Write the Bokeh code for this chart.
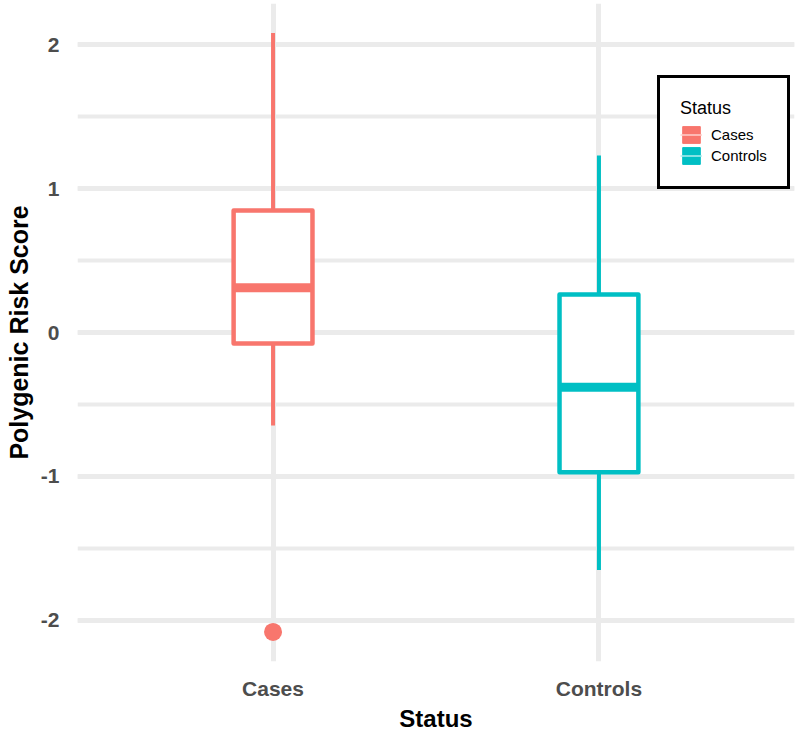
from bokeh.plotting import figure
from bokeh.models import (FactorRange, Range1d, SingleIntervalTicker, Legend, LegendItem,
                          ColumnDataSource)
from bokeh.embed import file_html
from bokeh.resources import INLINE

# ---- data ----
categories = ["Cases", "Controls"]
colors = ["#F8766D", "#00BFC4"]
lower_whisker = [-0.646, -1.65]
q1 = [-0.076, -0.97]
median = [0.31, -0.38]
q3 = [0.847, 0.264]
upper_whisker = [2.08, 1.23]
outlier_cat = ["Cases"]
outlier_val = [-2.08]
y_tick_labels = {-2: "-2", -1: "-1", 0: "0", 1: "1", 2: "2"}

FONT = "Liberation Sans"

src = ColumnDataSource(dict(cat=categories, color=colors, lw=lower_whisker, q1=q1,
                            med=median, q3=q3, uw=upper_whisker))

p = figure(width=801, height=734,
           x_range=FactorRange(factors=categories, range_padding=0.1),
           y_range=Range1d(-2.285, 2.285), output_backend="svg", toolbar_location=None,
           min_border_left=77, min_border_right=7, min_border_top=3, min_border_bottom=73)
p.outline_line_color = None
p.background_fill_color = "white"
p.border_fill_color = "white"

# grid
p.yaxis.ticker = SingleIntervalTicker(interval=1, num_minor_ticks=2)
p.yaxis.major_label_overrides = y_tick_labels
p.ygrid.grid_line_color = "#EBEBEB"
p.ygrid.grid_line_width = 5
p.ygrid.minor_grid_line_color = "#EBEBEB"
p.ygrid.minor_grid_line_width = 4
p.xgrid.grid_line_color = "#EBEBEB"
p.xgrid.grid_line_width = 5

# axes
for ax in (p.xaxis, p.yaxis):
    ax.axis_line_color = None
    ax.major_tick_line_color = None
    ax.minor_tick_line_color = None
    ax.major_tick_out = 0
    ax.major_tick_in = 0
    ax.minor_tick_out = 0
    ax.minor_tick_in = 0
    ax.major_label_text_font = FONT
    ax.major_label_text_font_style = "bold"
    ax.major_label_text_color = "#4D4D4D"
    ax.major_label_text_font_size = "21px"
    ax.axis_label_text_font = FONT
    ax.axis_label_text_font_style = "bold"
    ax.axis_label_text_color = "black"
p.xaxis.axis_label_text_font_size = "24px"
p.yaxis.axis_label_text_font_size = "25px"
p.yaxis.major_label_standoff = 18
p.xaxis.major_label_standoff = 15
p.xaxis.axis_label = "Status"
p.yaxis.axis_label = "Polygenic Risk Score"
p.xaxis.axis_label_standoff = 2
p.yaxis.axis_label_standoff = 5

# whiskers
p.segment(x0="cat", y0="q3", x1="cat", y1="uw", source=src, line_color="color", line_width=4)
p.segment(x0="cat", y0="q1", x1="cat", y1="lw", source=src, line_color="color", line_width=4)
# boxes
p.vbar(x="cat", width=0.242, top="q3", bottom="q1", source=src, fill_color="white",
       line_color="color", line_width=4.5, line_join="round")
# medians
p.rect(x="cat", y="med", width=0.242, height=9, height_units="screen", source=src,
       fill_color="color", line_color=None)
# outliers
p.scatter(x=outlier_cat, y=outlier_val, size=18, color=colors[0], line_color=None)

# legend keys
items = []
for c, col in zip(categories, colors):
    ks = ColumnDataSource(dict(x=[float("nan")], y=[float("nan")]))
    r1 = p.vbar(x="x", top="y", bottom="y", width=1, source=ks, fill_color=col, line_color=col,
                line_width=1, line_join="round")
    r2 = p.segment(x0="x", y0="y", x1="x", y1="y", source=ks,
                   line_color="#FFD0CC" if col == colors[0] else "#B0ECEE", line_width=1.5)
    items.append(LegendItem(label=c, renderers=[r1, r2]))

legend = Legend(items=items, location=(580, 472), title="Status",
                title_text_font=FONT, title_text_font_size="18px", title_text_font_style="normal",
                title_text_color="black",
                label_text_font=FONT, label_text_font_size="15px", label_text_color="black",
                border_line_color="black", border_line_width=3, border_line_alpha=1.0,
                padding=20, spacing=0, glyph_width=22, glyph_height=21, label_standoff=9,
                title_standoff=5, margin=0, background_fill_color="white", background_fill_alpha=1)
p.add_layout(legend, "center")

open("out.html", "w").write(file_html(p, INLINE))
